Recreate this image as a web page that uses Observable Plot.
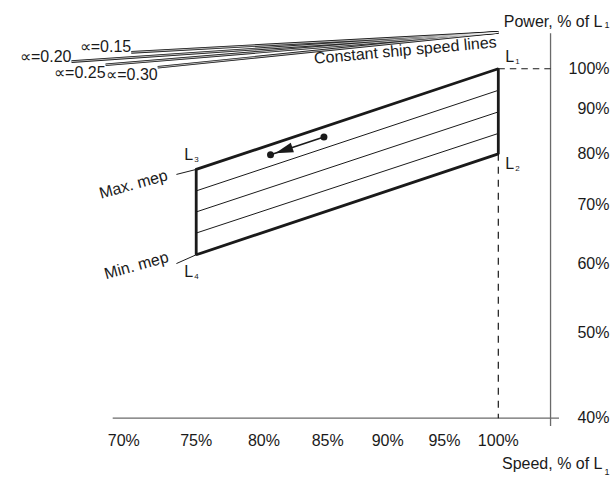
<!DOCTYPE html>
<html><head><meta charset="utf-8">
<script src="https://cdn.jsdelivr.net/npm/d3@7"></script>
<script src="https://cdn.jsdelivr.net/npm/@observablehq/plot@0.6"></script>
<style>body{margin:0;background:#fff;} svg{display:block;}</style>
</head><body><div id="chart"></div>
<script>
// ---------- data ----------
const speedTicks = [70, 75, 80, 85, 90, 95, 100];
const powerTicks = [40, 50, 60, 70, 80, 90, 100];
const cornerNames = ["L1", "L2", "L3", "L4"];
const cornerSpeed = [100, 100, 75, 75];
const cornerPower = [100, 80, 76.8, 61.4];
const innerLeftPower = [72.6, 68.7, 65.0];
const innerRightPower = [94.5, 89.3, 84.4];
const mepLabels = ["Max. mep", "Min. mep"];
const mepStartSpeed = [73.6, 73.6];
const mepStartPower = [75.8, 60.0];
const alphaLabels = ["\u221D=0.15", "\u221D=0.20", "\u221D=0.25", "\u221D=0.30"];
const alphaStartSpeed = [70.5, 66.6, 68.8, 72.3];
const alphaStartPower = [104.4, 101.9, 101.05, 100.4];
const convergeSpeed = 100;
const convergePower = 110;
const arrowSpeed = [84.7, 80.5];   // from, to
const arrowPower = [83.6, 79.8];
const xDomain = [69.3, 106];
const yDomain = [39.14, 109.6];
const yAxisSpeed = 105.1;
const xAxisPower = 40;

// ---------- layout ----------
const W = 616, H = 482;
const mL = 112.7, mR = 57, mT = 33.3, mB = 56;
const font = "'Liberation Sans', Arial, Helvetica, sans-serif";
const ink = "#1a1a1a";
const axisGray = "#6a6a6a";
const fs = 16;

const corners = cornerNames.map((n, i) => ({name: n, s: cornerSpeed[i], p: cornerPower[i]}));
const C = Object.fromEntries(corners.map(d => [d.name, d]));
const outline = [C.L3, C.L1, C.L2, C.L4, C.L3];
const inner = innerLeftPower.map((p, i) => ({s1: C.L3.s, p1: p, s2: C.L1.s, p2: innerRightPower[i]}));
const mep = mepLabels.map((t, i) => ({t, s1: mepStartSpeed[i], p1: mepStartPower[i], s2: i === 0 ? C.L3.s : C.L4.s, p2: i === 0 ? C.L3.p : C.L4.p}));
const alphas = alphaLabels.map((t, i) => ({t, s1: alphaStartSpeed[i], p1: alphaStartPower[i], s2: convergeSpeed, p2: convergePower}));
const arrow = {s1: arrowSpeed[0], p1: arrowPower[0], s2: arrowSpeed[1], p2: arrowPower[1]};

// arrow head orientation from the same scales
const xs = d3.scaleLog().domain(xDomain).range([mL, W - mR]);
const ys = d3.scaleLog().domain(yDomain).range([H - mB, mT]);
const ang = Math.atan2(ys(arrow.p2) - ys(arrow.p1), xs(arrow.s2) - xs(arrow.s1)) * 180 / Math.PI;
// forward = -y; tip sits just behind the end dot
const headSymbol = {draw(ctx) { ctx.moveTo(0, 5); ctx.lineTo(5, 23); ctx.lineTo(-5, 23); ctx.closePath(); }};

const cornerStyle = {L1: {dx: 7, dy: -12}, L2: {dx: 7, dy: 10}, L3: {dx: -12, dy: -15}, L4: {dx: -12, dy: 17}};
const cornerMarks = corners.flatMap(d => {
  const st = cornerStyle[d.name];
  return [
    Plot.text([d], {x: "s", y: "p", text: () => "L", dx: st.dx, dy: st.dy, textAnchor: "start", fontSize: 16, fill: ink}),
    Plot.text([d], {x: "s", y: "p", text: () => d.name.slice(1), dx: st.dx + 10, dy: st.dy + 5, textAnchor: "start", fontSize: 8, fill: ink})
  ];
});

const chart = Plot.plot({
  width: W, height: H,
  marginLeft: mL, marginRight: mR, marginTop: mT, marginBottom: mB,
  style: {fontFamily: font, fontSize: fs + "px", color: ink, background: "#fff"},
  x: {type: "log", domain: xDomain},
  y: {type: "log", domain: yDomain},
  marks: [
    // axis lines
    Plot.ruleY([xAxisPower], {stroke: axisGray, strokeWidth: 1.3}),
    Plot.ruleX([yAxisSpeed], {stroke: axisGray, strokeWidth: 1.3}),
    Plot.axisX({ticks: speedTicks, tickFormat: d => d + "%", tickSize: 0, tickPadding: 8, label: null, fontSize: fs, fill: ink}),
    Plot.axisY({anchor: "right", ticks: powerTicks, tickFormat: d => d + "%", tickSize: 0, textAnchor: "end", dx: 41, label: null, fontSize: fs, fill: ink}),
    // dashed guides
    Plot.link([C.L1], {x1: "s", y1: "p", x2: () => yAxisSpeed, y2: "p", stroke: ink, strokeWidth: 1.2, strokeDasharray: "6.5,5"}),
    Plot.link([C.L2], {x1: "s", y1: "p", x2: "s", y2: () => xAxisPower, stroke: ink, strokeWidth: 1.2, strokeDasharray: "7,6"}),
    // constant ship speed lines (drawn as thin double lines)
    Plot.link(alphas, {x1: "s1", y1: "p1", x2: "s2", y2: "p2", stroke: ink, strokeWidth: 2.6}),
    Plot.link(alphas, {x1: "s1", y1: "p1", x2: "s2", y2: "p2", stroke: "#fff", strokeWidth: 0.7}),
    // layout diagram
    Plot.link(inner, {x1: "s1", y1: "p1", x2: "s2", y2: "p2", stroke: ink, strokeWidth: 1}),
    Plot.link(mep, {x1: "s1", y1: "p1", x2: "s2", y2: "p2", stroke: ink, strokeWidth: 1}),
    Plot.line(outline, {x: "s", y: "p", stroke: ink, strokeWidth: 2.8, strokeLinejoin: "miter"}),
    // arrow
    Plot.link([arrow], {x1: "s1", y1: "p1", x2: "s2", y2: "p2", stroke: ink, strokeWidth: 1.6}),
    Plot.dot([arrow], {x: "s2", y: "p2", symbol: headSymbol, rotate: ang + 90, fill: ink, stroke: "none", r: 1}),
    Plot.dot([{s: arrow.s1, p: arrow.p1}, {s: arrow.s2, p: arrow.p2}], {x: "s", y: "p", r: 3.5, fill: ink}),
    // labels
    Plot.text(mep.slice(0, 1), {x: "s1", y: "p1", text: "t", dx: -43, dy: 10, rotate: -15.5, fontSize: fs, fill: ink}),
    Plot.text(mep.slice(1), {x: "s1", y: "p1", text: "t", dx: -40, dy: 2, rotate: -15.5, fontSize: fs, fill: ink}),
    Plot.text(alphas.slice(0, 2), {x: "s1", y: "p1", text: "t", textAnchor: "end", dy: -5, fontSize: fs, fill: ink}),
    Plot.text(alphas.slice(2), {x: "s1", y: "p1", text: "t", textAnchor: "end", dx: 0, dy: 8, fontSize: fs, fill: ink}),
    Plot.text([{s: convergeSpeed, p: convergePower}], {x: "s", y: "p", text: () => "Constant ship speed lines", dx: -93, dy: 18, rotate: -5.2, fontSize: fs, fill: ink}),
    ...cornerMarks,
    // axis titles
    Plot.text(["Power, % of L"], {frameAnchor: "top-right", text: d => d, textAnchor: "end", dx: 43, dy: -18.3, fontSize: fs, fill: ink}),
    Plot.text(["1"], {frameAnchor: "top-right", text: d => d, textAnchor: "start", dx: 45, dy: -12, fontSize: 9, fill: ink}),
    Plot.text(["Speed, % of L"], {frameAnchor: "bottom-right", text: d => d, textAnchor: "end", dx: 43, dy: 42.5, fontSize: fs, fill: ink}),
    Plot.text(["1"], {frameAnchor: "bottom-right", text: d => d, textAnchor: "start", dx: 45, dy: 48.5, fontSize: 9, fill: ink})
  ]
});
document.getElementById("chart").appendChild(chart);
</script>
</body></html>
